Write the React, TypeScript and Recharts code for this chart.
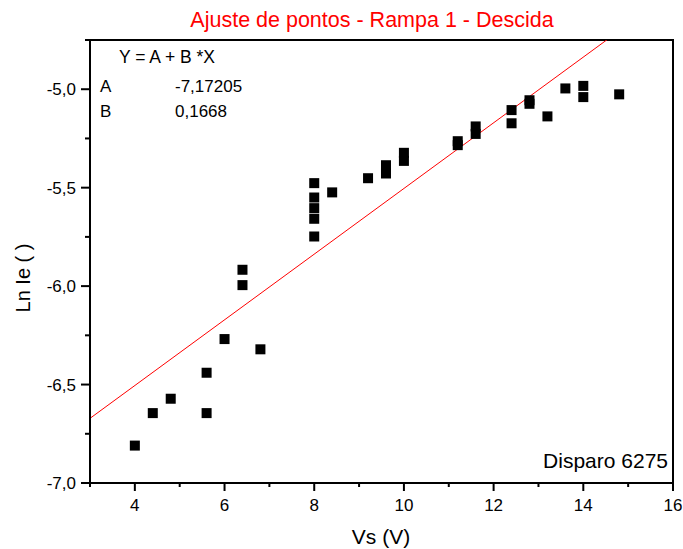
import {
  ScatterChart,
  Scatter,
  XAxis,
  YAxis,
  ReferenceLine,
  ReferenceArea,
} from "recharts";

const FONT = "'Liberation Sans', Arial, sans-serif";

// measured points (Vs, Ln Ie)
const vsValues = [
  4.0, 4.4, 4.8, 5.6, 5.6, 6.0, 6.4, 6.4, 6.8, 8.0, 8.0, 8.0, 8.0, 8.0, 8.4, 9.2, 9.6, 9.6,
  10.0, 10.0, 11.2, 11.2, 11.6, 11.6, 12.4, 12.4, 12.8, 12.8, 13.2, 13.6, 14.0, 14.0, 14.8,
];
const lnIeValues = [
  -6.81, -6.645, -6.572, -6.645, -6.44, -6.269, -5.917, -5.995, -6.321, -5.477, -5.55, -5.604,
  -5.658, -5.748, -5.524, -5.452, -5.386, -5.428, -5.323, -5.364, -5.264, -5.284, -5.189, -5.227,
  -5.106, -5.173, -5.056, -5.074, -5.138, -4.996, -4.983, -5.04, -5.026,
];

// linear fit Y = A + B*X
const FIT_A = -7.17205;
const FIT_B = 0.1668;

const xTicks = [3, 4, 5, 6, 7, 8, 9, 10, 11, 12, 13, 14, 15, 16];
const xMajor = [4, 6, 8, 10, 12, 14, 16];
const yTicks = [-7, -6.75, -6.5, -6.25, -6, -5.75, -5.5, -5.25, -5, -4.75];
const yMajor = [-7, -6.5, -6, -5.5, -5];

const points = vsValues.map((x, i) => ({ x, y: lnIeValues[i] }));

const XTick = (props: any) => {
  const { x, y, payload } = props;
  const major = xMajor.includes(payload.value);
  return (
    <g>
      <line x1={x} y1={y} x2={x} y2={y + (major ? 8 : 4)} stroke="#000" strokeWidth={2} />
      {major && (
        <text x={x} y={y + 28} textAnchor="middle" fontSize={17} fontFamily={FONT} fill="#000">
          {payload.value}
        </text>
      )}
    </g>
  );
};

const YTick = (props: any) => {
  const { x, y, payload } = props;
  const major = yMajor.includes(payload.value);
  return (
    <g>
      <line x1={x - (major ? 9 : 5)} y1={y} x2={x} y2={y} stroke="#000" strokeWidth={2} />
      {major && (
        <text x={x - 14} y={y + 6} textAnchor="end" fontSize={17} fontFamily={FONT} fill="#000">
          {payload.value.toFixed(1).replace(".", ",")}
        </text>
      )}
    </g>
  );
};

const SquareDot = (props: any) => {
  const { cx, cy } = props;
  return <rect x={cx - 5} y={cy - 5} width={10} height={10} fill="#000" />;
};

export default function App() {
  return (
    <div style={{ position: "absolute", left: 0, top: 0, width: 683, height: 549, background: "#fff" }}>
      <ScatterChart width={683} height={549} margin={{ top: 40, right: 10, bottom: 0, left: 0 }}>
        <XAxis
          type="number"
          dataKey="x"
          domain={[3, 16]}
          ticks={xTicks}
          interval={0}
          tick={<XTick />}
          tickSize={0}
          tickMargin={0}
          tickLine={false}
          height={66}
          axisLine={{ stroke: "#000", strokeWidth: 2 }}
        />
        <YAxis
          type="number"
          dataKey="y"
          domain={[-7, -4.75]}
          allowDataOverflow
          ticks={yTicks}
          interval={0}
          tick={<YTick />}
          tickSize={0}
          tickMargin={0}
          tickLine={false}
          width={90}
          axisLine={{ stroke: "#000", strokeWidth: 2 }}
        />
        <ReferenceArea x1={3} x2={16} y1={-7} y2={-4.75} fill="none" stroke="#000" strokeWidth={2} fillOpacity={0} />
        <ReferenceLine
          segment={[
            { x: 3, y: FIT_A + FIT_B * 3 },
            { x: 16, y: FIT_A + FIT_B * 16 },
          ]}
          stroke="#ff0000"
          strokeWidth={1}
          ifOverflow="hidden"
        />
        <Scatter data={points} shape={<SquareDot />} isAnimationActive={false} />
      </ScatterChart>
      <div style={{ position: "absolute", left: 0, top: 0, pointerEvents: "none" }}>
        <svg width={683} height={549} style={{ fontFamily: FONT }}>
          <text x={372} y={27} textAnchor="middle" fontSize={21.5} fill="#ff0000">
            Ajuste de pontos - Rampa 1 - Descida
          </text>
          <text x={381} y={544} textAnchor="middle" fontSize={21} fill="#000">
            Vs (V)
          </text>
          <text x={30} y={278} textAnchor="middle" fontSize={20} fill="#000" transform="rotate(-90 30 278)">
            Ln Ie ( )
          </text>
          <text x={119} y={63} fontSize={17.5} fill="#000">Y = A + B *X</text>
          <text x={100} y={92} fontSize={17} fill="#000">A</text>
          <text x={175} y={92} fontSize={17} fill="#000">-7,17205</text>
          <text x={100} y={117} fontSize={17} fill="#000">B</text>
          <text x={175} y={117} fontSize={17} fill="#000">0,1668</text>
          <text x={668} y={468} textAnchor="end" fontSize={21} fill="#000">Disparo 6275</text>
        </svg>
      </div>
    </div>
  );
}
